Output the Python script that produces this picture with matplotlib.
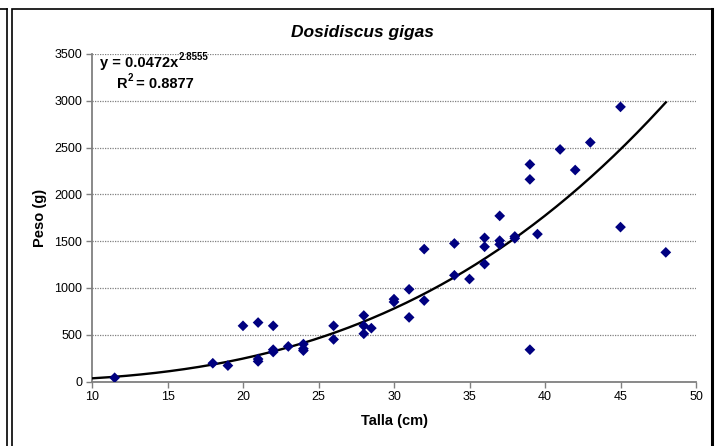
import numpy as np
import matplotlib
matplotlib.use('Agg')
import matplotlib.pyplot as plt
from matplotlib.lines import Line2D
from matplotlib.patches import Rectangle

plt.rcParams['font.family'] = ['Liberation Sans', 'DejaVu Sans']

# talla (cm) and peso (g)
talla = [11.5, 18, 19, 20, 21, 21, 21, 22, 22, 22, 23, 24, 24, 24,
         26, 26, 28, 28, 28, 28.5, 30, 30, 31, 31, 32, 32, 34, 34, 35,
         36, 36, 36, 37, 37, 37, 38, 38, 39, 39, 39, 39.5, 41, 42, 43,
         45, 45, 48]
peso = [40, 195, 170, 595, 630, 240, 215, 595, 340, 315, 375, 400, 350, 330,
        595, 450, 705, 595, 510, 570, 880, 850, 985, 685, 1415, 865, 1475, 1135, 1095,
        1535, 1440, 1255, 1770, 1505, 1465, 1550, 1530, 2320, 2160, 340, 1575, 2480, 2260, 2555,
        2935, 1650, 1380]

# power fit shown on the chart
coef_a = 0.0472
coef_b = 2.8555
fit_x = np.linspace(10, 48, 200)
fit_y = coef_a * fit_x ** coef_b

W, H = 716, 446
fig = plt.figure(figsize=(W / 100, H / 100), dpi=100)
ax = fig.add_axes([92 / W, 1 - 381.5 / H, (696 - 92) / W, (381.5 - 54) / H])

ax.plot(fit_x, fit_y, color='black', lw=1.7, zorder=3)
ax.scatter(talla, peso, marker='D', s=30, color='#000080', edgecolors='none', zorder=4)

ax.set_xlim(10, 50)
ax.set_ylim(0, 3500)
ax.set_xticks(range(10, 51, 5))
ax.set_yticks(range(0, 3501, 500))
ax.yaxis.grid(True, color='#808080', lw=0.9, linestyle=(0, (1, 1)))
ax.set_axisbelow(True)
for s in ['top', 'right']:
    ax.spines[s].set_visible(False)
for s in ['left', 'bottom']:
    ax.spines[s].set_color('#808080')
    ax.spines[s].set_linewidth(1.3)
ax.tick_params(direction='out', length=4, width=1, color='#808080', labelsize=9, pad=3)

ax.set_xlabel('Talla (cm)', fontsize=10.5, fontweight='bold', labelpad=8)
ax.set_ylabel('Peso (g)', fontsize=10.5, fontweight='bold', labelpad=5)

fig.text(362 / W, 1 - 33 / H, 'Dosidiscus gigas', ha='center', va='center',
         fontsize=12.5, fontweight='bold', style='italic')

# equation text with superscripts
renderer = fig.canvas.get_renderer()
t1 = fig.text(100 / W, 1 - 63 / H, 'y = 0.0472x', fontsize=10.5, fontweight='bold',
              ha='left', va='center')
bb = t1.get_window_extent(renderer)
fig.text(bb.x1 / W, 1 - 57 / H, '2.8555', fontsize=7, fontweight='bold',
         ha='left', va='center')
t2 = fig.text(117 / W, 1 - 84 / H, 'R', fontsize=10.5, fontweight='bold',
              ha='left', va='center')
bb = t2.get_window_extent(renderer)
fig.text(bb.x1 / W, 1 - 78 / H, '2', fontsize=7, fontweight='bold',
         ha='left', va='center')
fig.text(bb.x1 / W + 4 / W, 1 - 84 / H, ' = 0.8877', fontsize=10.5, fontweight='bold',
         ha='left', va='center')

# frame lines around the chart area
fig.add_artist(Rectangle((11.5 / W, -0.05), (712 - 11.5) / W, 1 - 9 / H + 0.05,
                         transform=fig.transFigure, fill=False, lw=1.2, ec='black'))
fig.add_artist(Line2D([712 / W, 712 / W], [0, 1 - 9 / H], transform=fig.transFigure,
                      color='black', lw=2.2))
fig.add_artist(Line2D([7.5 / W, 7.5 / W], [0, 1 - 9 / H], transform=fig.transFigure,
                      color='black', lw=1.2))
fig.add_artist(Line2D([0, 7.5 / W], [1 - 9 / H, 1 - 9 / H], transform=fig.transFigure,
                      color='black', lw=1.2))

fig.savefig('out.png', dpi=100)
